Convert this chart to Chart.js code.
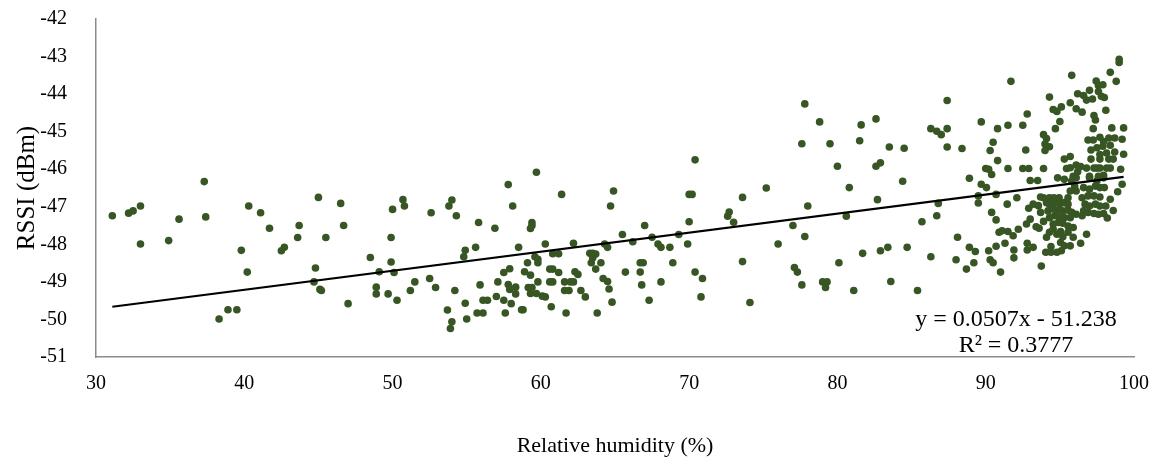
<!DOCTYPE html>
<html><head><meta charset="utf-8">
<script src="https://cdn.jsdelivr.net/npm/chart.js@4.4.1/dist/chart.umd.min.js"></script>
<style>html,body{margin:0;padding:0;background:#fff;}#wrap{width:1155px;height:460px;}</style>
</head><body><div id="wrap"><canvas id="c" width="1155" height="460"></canvas></div>
<script>
const humidity = [
31.1,32.2,32.5,33.0,33.0,34.9,35.6,37.3,37.4,38.3,38.9,39.5,39.8,40.2,40.3,41.1,41.7,42.5,42.7,43.6,43.7,44.8,44.7,45.1,45.2,45.0,45.5,46.5,46.7,47.0,
48.5,49.1,48.9,48.9,49.7,50.0,49.9,49.9,50.1,50.3,50.7,50.8,51.2,51.5,52.5,52.6,52.9,53.7,54.0,53.9,53.8,54.0,54.3,54.2,54.9,54.8,54.9,55.0,55.6,55.8,55.9,55.7,56.1,56.1,56.4,56.9,57.0,57.1,57.5,57.9,57.8,57.6,57.5,57.8,57.9,58.3,58.3,58.0,58.1,58.5,58.7,58.8,58.9,59.3,59.1,59.15,59.4,59.3,59.7,59.8,59.4,59.4,59.3,59.7,59.6,59.8,59.8,60.1,60.3,60.3,60.6,60.8,60.7,60.6,60.8,60.8,61.2,61.2,61.4,61.6,62.0,62.2,61.6,61.9,61.7,62.2,62.3,62.5,62.7,63.0,63.3,63.5,63.4,63.5,63.7,63.8,
63.7,64.05,64.2,64.5,64.6,64.8,64.3,64.5,64.7,64.9,65.5,65.7,66.2,66.7,66.9,66.7,66.8,67.0,67.3,67.5,67.9,68.1,68.1,68.7,68.9,69.3,69.9,70.0,70.0,70.2,70.4,70.4,70.9,70.8,72.6,72.7,73.0,73.6,73.6,74.1,75.2,76.0,77.0,77.1,77.3,77.6,77.8,77.6,78.0,77.8,78.8,79.0,79.3,79.2,79.5,80.0,80.1,80.8,80.6,
81.1,81.6,81.5,81.7,82.6,82.6,82.9,82.7,82.9,83.4,83.5,83.6,84.5,84.4,84.7,85.4,85.7,86.3,86.7,87.0,86.3,86.7,86.8,87.4,87.4,87.4,88.1,88.0,88.4,88.7,88.9,89.3,88.9,89.2,89.5,89.5,89.7,89.7,90.05,90.0,90.2,90.4,90.3,90.5,90.4,90.2,90.3,90.5,90.7,90.7,90.8,90.8,90.7,90.9,91.0,
91.7,91.5,91.5,92.5,92.8,92.7,92.5,92.9,93.0,93.5,93.9,93.9,94.1,94.0,94.3,94.0,94.3,94.55,94.8,95.1,95.0,94.7,95.3,95.7,94.85,95.45,95.8,95.7,96.1,96.5,96.2,96.6,96.8,97.0,97.2,97.45,97.6,97.6,97.9,97.8,98.0,97.3,97.4,97.25,98.1,98.4,98.8,99.0,99.0,96.9,97.25,97.7,97.95,98.3,98.7,98.5,97.5,97.9,98.4,97.1,98.7,97.1,97.7,98.3,98.6,97.7,98.15,95.7,96.1,96.4,96.2,96.8,97.3,97.5,97.7,98.15,98.4,95.9,97.0,97.6,97.95,
91.45,92.1,91.1,91.5,91.85,92.2,91.3,91.9,91.9,92.8,93.2,92.8,92.75,93.0,93.4,92.9,93.2,93.55,93.7,93.75,93.9,93.6,94.1,94.05,94.4,94.8,94.4,94.3,94.55,94.8,95.05,95.2,95.05,95.3,95.1,
94.3,94.6,94.95,94.3,94.65,94.98,95.3,95.55,95.55,94.2,94.55,94.9,95.2,95.55,95.8,94.3,94.65,95.0,95.3,95.7,96.1,94.55,94.9,95.2,95.55,95.9,96.5,
96.5,96.9,97.3,97.7,98.1,96.7,97.0,97.4,97.7,96.6,96.9,97.3,97.6,97.95,96.8,96.4,95.9,95.55,95.7,96.1,95.7,96.0,96.6,97.0,95.3,95.8,96.1,97.5,97.95,97.0,97.4,97.7,98.0,93.9,94.1,93.7,
99.2,99.3,99.1,99.2,98.9,99.3,98.4,98.6,98.2
];
const rssi = [
-47.24,-47.17,-47.11,-46.98,-47.99,-47.90,-47.33,-46.33,-47.27,-49.99,-49.74,-49.74,-48.16,-48.74,-46.98,-47.16,-47.57,-48.17,-48.08,-47.82,-47.50,-48.63,-49.00,-49.20,-49.23,-46.75,-47.82,-46.91,-47.50,-49.58,
-48.35,-48.73,-49.14,-49.32,-49.32,-47.07,-47.82,-48.47,-48.75,-49.49,-46.81,-46.98,-49.23,-49.00,-48.91,-47.16,-49.15,-49.75,-50.06,-50.24,-46.98,-46.82,-47.24,-49.23,-48.16,-48.33,-49.57,-49.99,-48.08,-47.42,-49.08,-49.83,-49.83,-49.49,-49.49,-47.57,-49.39,-49.00,-48.75,-48.65,-46.41,-49.83,-49.49,-49.07,-49.20,-49.14,-49.32,-49.58,-46.98,-48.08,-49.74,-49.74,-48.73,-48.82,-48.49,-49.15,-49.15,-49.31,-49.31,-49.00,-47.42,-47.50,-47.58,-46.08,-48.33,-48.40,-48.49,-49.38,-49.40,-47.99,-48.66,-48.66,-49.66,-49.00,-49.00,-48.25,-48.25,-48.75,-46.67,-49.00,-49.00,-49.00,-49.23,-49.23,-49.83,-47.97,-48.73,-48.80,-49.23,-49.40,-48.24,-48.24,-48.49,-48.36,-48.66,-49.83,
-48.26,-48.49,-48.91,-48.99,-49.19,-49.54,-47.99,-48.08,-46.98,-46.58,-47.74,-48.74,-47.93,-48.49,-48.49,-48.74,-49.08,-47.50,-49.49,-47.81,-47.99,-48.08,-49.00,-48.08,-48.49,-47.74,-47.99,-47.40,-46.67,-46.67,-45.75,-48.74,-48.91,-49.40,-47.25,-47.14,-47.41,-46.75,-48.46,-49.55,-46.50,-47.99,-47.50,-48.62,-48.74,-49.08,-44.26,-45.32,-46.98,-47.79,-44.74,-49.00,-49.00,-49.15,-45.32,-45.92,-48.49,-46.49,-47.25,
-49.23,-44.82,-45.24,-48.24,-44.66,-45.92,-45.83,-46.81,-48.17,-48.08,-45.41,-48.99,-45.44,-46.32,-48.08,-49.23,-47.40,-44.92,-44.99,-45.08,-48.33,-47.24,-46.91,-44.17,-44.92,-45.41,-47.81,-48.41,-45.45,-48.66,-48.08,-48.19,-46.24,-48.49,-46.71,-46.90,-44.74,-46.40,-46.49,-45.98,-46.00,-46.14,-45.50,-45.28,-47.15,-48.17,-48.41,-48.49,-47.35,-48.05,-44.92,-45.77,-46.67,-47.68,-48.74,
-43.66,-44.83,-45.98,-44.83,-44.53,-45.49,-45.98,-45.98,-46.30,-46.30,-45.98,-45.08,-45.18,-45.33,-45.40,-45.50,-44.08,-44.41,-44.46,-44.34,-44.73,-44.92,-45.73,-45.66,-46.23,-45.98,-43.50,-44.23,-44.39,-44.48,-43.99,-44.04,-44.16,-43.90,-44.13,-43.65,-43.77,-43.93,-43.75,-44.06,-44.09,-44.57,-44.69,-44.92,-44.43,-43.42,-43.66,-43.07,-43.16,-45.22,-45.22,-45.15,-45.26,-45.17,-45.17,-44.90,-45.43,-45.39,-45.36,-45.49,-45.54,-45.73,-45.73,-45.73,-45.73,-45.61,-45.57,-45.96,-45.89,-45.93,-46.07,-45.97,-45.97,-45.97,-45.97,-45.97,-45.97,-46.19,-46.19,-46.19,-46.16,
-46.93,-46.76,-47.64,-47.66,-47.77,-47.60,-47.97,-48.15,-48.36,-47.97,-48.08,-48.15,-47.46,-47.33,-47.53,-47.04,-46.93,-46.97,-46.74,-48.58,-47.39,-47.57,-47.81,-48.21,-48.21,-48.21,-48.06,-47.68,-47.59,-47.73,-47.66,-47.80,-47.95,-48.04,-48.17,
-46.76,-46.76,-46.76,-46.93,-46.89,-46.93,-46.89,-46.76,-46.93,-47.11,-47.06,-47.09,-47.11,-47.09,-47.15,-47.29,-47.24,-47.29,-47.29,-47.29,-47.20,-47.46,-47.42,-47.44,-47.51,-47.55,-47.24,
-46.76,-46.71,-46.71,-46.74,-46.98,-46.93,-46.98,-46.93,-46.98,-47.11,-47.15,-47.18,-47.20,-47.18,-47.73,-47.97,-47.81,-47.68,-48.04,-46.58,-46.58,-46.45,-46.49,-46.53,-46.27,-46.31,-46.23,-46.31,-46.23,-46.23,-46.45,-46.49,-46.49,-46.76,-46.89,-47.15,
-45.20,-45.60,-46.00,-46.40,-46.60,-44.90,-46.80,-47.10,-47.30
];
const xTicks = [30, 40, 50, 60, 70, 80, 90, 100];
const yTicks = [-51, -50, -49, -48, -47, -46, -45, -44, -43, -42];
const trendSlope = 0.0507;
const trendIntercept = -51.238;
const trendR2 = 0.3777;
const xTitle = 'Relative humidity (%)';
const yTitle = 'RSSI (dBm)';

const points = humidity.map((h, i) => ({x: h, y: rssi[i]}));
const xMinData = Math.min(...humidity), xMaxData = Math.max(...humidity);
const trendPoints = [xMinData, xMaxData].map(x => ({x: x, y: trendSlope * x + trendIntercept}));

const serif = '"Liberation Serif", "Times New Roman", serif';

const eqPlugin = {
  id: 'eqText',
  afterDatasetsDraw(chart) {
    const ctx = chart.ctx;
    ctx.save();
    ctx.font = '24px ' + serif;
    ctx.fillStyle = '#000';
    ctx.textAlign = 'center';
    ctx.textBaseline = 'alphabetic';
    ctx.fillText('y = ' + trendSlope + 'x - ' + Math.abs(trendIntercept).toFixed(3), 1016, 326);
    ctx.fillText('R\u00B2 = ' + trendR2, 1016, 352);
    ctx.restore();
  }
};

function clearPad(s) { s.paddingTop = 0; s.paddingBottom = 0; s.paddingLeft = 0; s.paddingRight = 0; }

new Chart(document.getElementById('c'), {
  type: 'scatter',
  data: {
    datasets: [
      {
        type: 'line', label: 'Trend', data: trendPoints, borderColor: '#000000', borderWidth: 2.2,
        pointRadius: 0, fill: false, order: 0
      },
      {
        label: 'RSSI', data: points, backgroundColor: '#375623', borderWidth: 0,
        pointRadius: 3.8, pointHoverRadius: 3.8, order: 1
      }
    ]
  },
  options: {
    responsive: false,
    animation: false,
    devicePixelRatio: 1,
    layout: {padding: {left: 0, right: 21, top: 19, bottom: 0}},
    plugins: {legend: {display: false}, tooltip: {enabled: false}},
    events: [],
    scales: {
      x: {
        type: 'linear', min: 30, max: 100,
        afterBuildTicks: s => { s.ticks = xTicks.map(v => ({value: v})); },
        afterFit: s => { s.height = 103; clearPad(s); },
        grid: {display: false, drawTicks: false},
        border: {display: true, color: '#8c8c8c', width: 1.5},
        ticks: {color: '#000', font: {family: serif, size: 20}, padding: 15, maxRotation: 0},
        title: {display: true, text: xTitle, color: '#000', font: {family: serif, size: 22}, padding: {top: 0, bottom: 1}}
      },
      y: {
        type: 'linear', min: -51, max: -42,
        afterBuildTicks: s => { s.ticks = yTicks.map(v => ({value: v})); },
        afterFit: s => { s.width = 96; clearPad(s); },
        grid: {display: false, drawTicks: false},
        border: {display: true, color: '#8c8c8c', width: 1.5},
        ticks: {color: '#000', font: {family: serif, size: 20}, padding: 29},
        title: {display: true, text: yTitle, color: '#000', font: {family: serif, size: 25}, padding: {top: 12, bottom: 0}}
      }
    }
  },
  plugins: [eqPlugin]
});
</script>
</body></html>
